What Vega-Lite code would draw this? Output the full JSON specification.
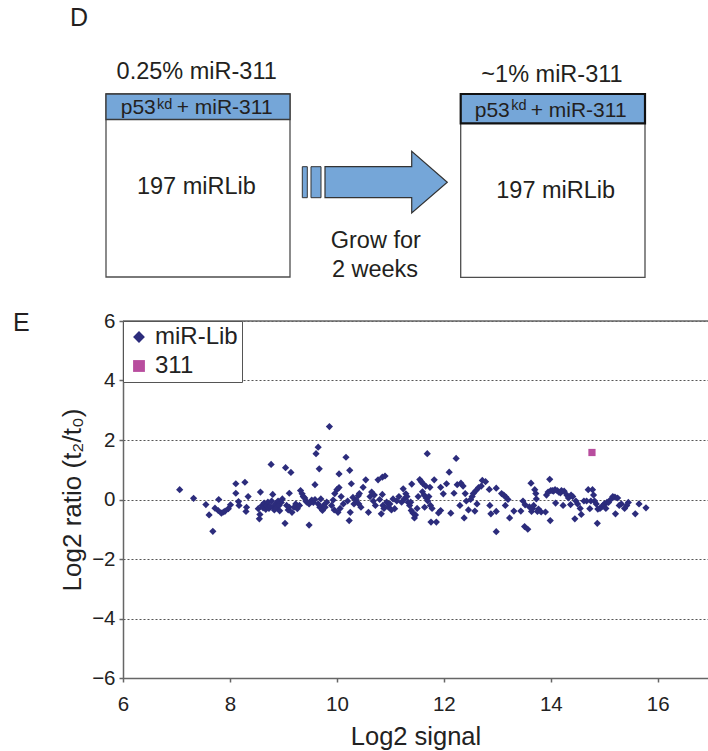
{
  "$schema": "https://vega.github.io/schema/vega-lite/v6.json",
  "padding": {"left": 13, "top": 0, "right": 0, "bottom": 0},
  "bounds": "flush",
  "spacing": 21,
  "background": "white",
  "config": {"font": "Liberation Sans", "view": {"stroke": null}},
  "resolve": {"scale": {"color": "independent", "shape": "independent"}, "legend": {"color": "independent", "shape": "independent"}},
  "datasets": {
    "boxes": [{"gx": 106, "gx2": 290, "gy": 94, "gy2": 277}, {"gx": 460.7, "gx2": 645, "gy": 94, "gy2": 277.3}],
    "bandL": [{"gx": 106, "gx2": 290, "gy": 94, "gy2": 119.5}],
    "bandR": [{"gx": 460.7, "gx2": 645, "gy": 94, "gy2": 123.3}],
    "tail": [{"gx": 302.3, "gx2": 307.3, "gy": 166.7, "gy2": 197.7}, {"gx": 311, "gx2": 321, "gy": 166.7, "gy2": 197.7}],
    "arrow": [{"gx": 386.15, "gy": 182.2}],
    "bigText": [
      {"gx": 196.7, "gy": 79, "t": "0.25% miR-311"},
      {"gx": 552, "gy": 81.7, "t": "~1% miR-311"},
      {"gx": 196.4, "gy": 194, "t": "197 miRLib"},
      {"gx": 555.7, "gy": 198.3, "t": "197 miRLib"},
      {"gx": 375.8, "gy": 247.7, "t": "Grow for"},
      {"gx": 375, "gy": 276.7, "t": "2 weeks"}
    ],
    "bandText": [
      {"gx": 120.7, "gy": 114, "t": "p53"},
      {"gx": 176.7, "gy": 114, "t": "+ miR-311"},
      {"gx": 474.7, "gy": 116.7, "t": "p53"},
      {"gx": 530.7, "gy": 116.7, "t": "+ miR-311"}
    ],
    "supText": [{"gx": 157, "gy": 108.8, "t": "kd"}, {"gx": 511.3, "gy": 109.5, "t": "kd"}],
    "labelD": [{"gx": 70, "gy": 26, "t": "D"}],
    "labelE": [{"signal": 3.944, "ratio": 5.664, "t": "E"}],
    "frameTop": [{"ratio": 6}],
    "points": [
      {"signal": 7.06, "ratio": 0.33, "series": "miR-Lib"},
      {"signal": 7.32, "ratio": 0.04, "series": "miR-Lib"},
      {"signal": 7.55, "ratio": -0.17, "series": "miR-Lib"},
      {"signal": 7.61, "ratio": -0.52, "series": "miR-Lib"},
      {"signal": 7.68, "ratio": -1.07, "series": "miR-Lib"},
      {"signal": 7.72, "ratio": -0.29, "series": "miR-Lib"},
      {"signal": 7.78, "ratio": -0.37, "series": "miR-Lib"},
      {"signal": 7.79, "ratio": 0.0, "series": "miR-Lib"},
      {"signal": 7.84, "ratio": -0.46, "series": "miR-Lib"},
      {"signal": 7.88, "ratio": -0.42, "series": "miR-Lib"},
      {"signal": 7.91, "ratio": -0.39, "series": "miR-Lib"},
      {"signal": 7.97, "ratio": -0.31, "series": "miR-Lib"},
      {"signal": 8.01, "ratio": -0.18, "series": "miR-Lib"},
      {"signal": 8.11, "ratio": 0.53, "series": "miR-Lib"},
      {"signal": 8.11, "ratio": 0.21, "series": "miR-Lib"},
      {"signal": 8.16, "ratio": -0.07, "series": "miR-Lib"},
      {"signal": 8.17, "ratio": -0.2, "series": "miR-Lib"},
      {"signal": 8.28, "ratio": 0.58, "series": "miR-Lib"},
      {"signal": 8.3, "ratio": -0.4, "series": "miR-Lib"},
      {"signal": 8.31, "ratio": -0.26, "series": "miR-Lib"},
      {"signal": 8.34, "ratio": 0.1, "series": "miR-Lib"},
      {"signal": 8.53, "ratio": -0.31, "series": "miR-Lib"},
      {"signal": 8.55, "ratio": -0.65, "series": "miR-Lib"},
      {"signal": 8.56, "ratio": -0.5, "series": "miR-Lib"},
      {"signal": 8.57, "ratio": 0.25, "series": "miR-Lib"},
      {"signal": 8.6, "ratio": -0.2, "series": "miR-Lib"},
      {"signal": 8.62, "ratio": -0.28, "series": "miR-Lib"},
      {"signal": 8.64, "ratio": -0.12, "series": "miR-Lib"},
      {"signal": 8.67, "ratio": -0.33, "series": "miR-Lib"},
      {"signal": 8.69, "ratio": -0.2, "series": "miR-Lib"},
      {"signal": 8.71, "ratio": -0.09, "series": "miR-Lib"},
      {"signal": 8.73, "ratio": -0.3, "series": "miR-Lib"},
      {"signal": 8.75, "ratio": -0.22, "series": "miR-Lib"},
      {"signal": 8.77, "ratio": 1.18, "series": "miR-Lib"},
      {"signal": 8.78, "ratio": -0.05, "series": "miR-Lib"},
      {"signal": 8.8, "ratio": 0.17, "series": "miR-Lib"},
      {"signal": 8.81, "ratio": -0.25, "series": "miR-Lib"},
      {"signal": 8.83, "ratio": -0.35, "series": "miR-Lib"},
      {"signal": 8.85, "ratio": -0.15, "series": "miR-Lib"},
      {"signal": 8.87, "ratio": -0.28, "series": "miR-Lib"},
      {"signal": 8.9, "ratio": -0.05, "series": "miR-Lib"},
      {"signal": 8.92, "ratio": -0.2, "series": "miR-Lib"},
      {"signal": 8.93, "ratio": -0.38, "series": "miR-Lib"},
      {"signal": 8.96, "ratio": -0.1, "series": "miR-Lib"},
      {"signal": 8.98, "ratio": 0.02, "series": "miR-Lib"},
      {"signal": 9.03, "ratio": -0.8, "series": "miR-Lib"},
      {"signal": 9.04, "ratio": 1.07, "series": "miR-Lib"},
      {"signal": 9.06, "ratio": -0.2, "series": "miR-Lib"},
      {"signal": 9.09, "ratio": -0.35, "series": "miR-Lib"},
      {"signal": 9.11, "ratio": 0.21, "series": "miR-Lib"},
      {"signal": 9.11, "ratio": -0.26, "series": "miR-Lib"},
      {"signal": 9.14, "ratio": 0.91, "series": "miR-Lib"},
      {"signal": 9.16, "ratio": -0.43, "series": "miR-Lib"},
      {"signal": 9.2, "ratio": -0.26, "series": "miR-Lib"},
      {"signal": 9.23, "ratio": -0.15, "series": "miR-Lib"},
      {"signal": 9.26, "ratio": -0.31, "series": "miR-Lib"},
      {"signal": 9.3, "ratio": -0.2, "series": "miR-Lib"},
      {"signal": 9.32, "ratio": 0.3, "series": "miR-Lib"},
      {"signal": 9.35, "ratio": 0.19, "series": "miR-Lib"},
      {"signal": 9.37, "ratio": 0.1, "series": "miR-Lib"},
      {"signal": 9.4, "ratio": 0.05, "series": "miR-Lib"},
      {"signal": 9.42, "ratio": -0.05, "series": "miR-Lib"},
      {"signal": 9.44, "ratio": -0.09, "series": "miR-Lib"},
      {"signal": 9.48, "ratio": -0.15, "series": "miR-Lib"},
      {"signal": 9.48, "ratio": -0.86, "series": "miR-Lib"},
      {"signal": 9.53, "ratio": -0.02, "series": "miR-Lib"},
      {"signal": 9.56, "ratio": -0.1, "series": "miR-Lib"},
      {"signal": 9.59, "ratio": 0.5, "series": "miR-Lib"},
      {"signal": 9.59, "ratio": 0.0, "series": "miR-Lib"},
      {"signal": 9.61, "ratio": 1.54, "series": "miR-Lib"},
      {"signal": 9.65, "ratio": 1.76, "series": "miR-Lib"},
      {"signal": 9.65, "ratio": -0.15, "series": "miR-Lib"},
      {"signal": 9.67, "ratio": 1.03, "series": "miR-Lib"},
      {"signal": 9.68, "ratio": -0.26, "series": "miR-Lib"},
      {"signal": 9.7, "ratio": 0.02, "series": "miR-Lib"},
      {"signal": 9.73, "ratio": -0.37, "series": "miR-Lib"},
      {"signal": 9.75, "ratio": -0.2, "series": "miR-Lib"},
      {"signal": 9.78, "ratio": -0.26, "series": "miR-Lib"},
      {"signal": 9.81, "ratio": -0.09, "series": "miR-Lib"},
      {"signal": 9.86, "ratio": 2.45, "series": "miR-Lib"},
      {"signal": 9.9, "ratio": -0.2, "series": "miR-Lib"},
      {"signal": 9.93, "ratio": -0.02, "series": "miR-Lib"},
      {"signal": 9.96, "ratio": 0.2, "series": "miR-Lib"},
      {"signal": 9.95, "ratio": -0.35, "series": "miR-Lib"},
      {"signal": 10.0, "ratio": 0.33, "series": "miR-Lib"},
      {"signal": 10.02, "ratio": -0.43, "series": "miR-Lib"},
      {"signal": 10.04, "ratio": 0.4, "series": "miR-Lib"},
      {"signal": 10.04, "ratio": 0.86, "series": "miR-Lib"},
      {"signal": 10.06, "ratio": -0.3, "series": "miR-Lib"},
      {"signal": 10.08, "ratio": 0.1, "series": "miR-Lib"},
      {"signal": 10.12, "ratio": -0.15, "series": "miR-Lib"},
      {"signal": 10.17, "ratio": 1.42, "series": "miR-Lib"},
      {"signal": 10.2, "ratio": -0.05, "series": "miR-Lib"},
      {"signal": 10.24, "ratio": 0.98, "series": "miR-Lib"},
      {"signal": 10.23, "ratio": -0.71, "series": "miR-Lib"},
      {"signal": 10.25, "ratio": -0.43, "series": "miR-Lib"},
      {"signal": 10.27, "ratio": 0.53, "series": "miR-Lib"},
      {"signal": 10.3, "ratio": 0.07, "series": "miR-Lib"},
      {"signal": 10.32, "ratio": -0.15, "series": "miR-Lib"},
      {"signal": 10.36, "ratio": -0.02, "series": "miR-Lib"},
      {"signal": 10.4, "ratio": 0.13, "series": "miR-Lib"},
      {"signal": 10.41, "ratio": -0.15, "series": "miR-Lib"},
      {"signal": 10.42, "ratio": 0.2, "series": "miR-Lib"},
      {"signal": 10.45, "ratio": -0.26, "series": "miR-Lib"},
      {"signal": 10.49, "ratio": 0.41, "series": "miR-Lib"},
      {"signal": 10.54, "ratio": 0.66, "series": "miR-Lib"},
      {"signal": 10.59, "ratio": -0.43, "series": "miR-Lib"},
      {"signal": 10.62, "ratio": 0.1, "series": "miR-Lib"},
      {"signal": 10.65, "ratio": 0.25, "series": "miR-Lib"},
      {"signal": 10.68, "ratio": -0.05, "series": "miR-Lib"},
      {"signal": 10.7, "ratio": 0.15, "series": "miR-Lib"},
      {"signal": 10.72, "ratio": -0.2, "series": "miR-Lib"},
      {"signal": 10.77, "ratio": 0.66, "series": "miR-Lib"},
      {"signal": 10.8, "ratio": 0.0, "series": "miR-Lib"},
      {"signal": 10.85, "ratio": 0.75, "series": "miR-Lib"},
      {"signal": 10.9, "ratio": 0.79, "series": "miR-Lib"},
      {"signal": 10.85, "ratio": 0.17, "series": "miR-Lib"},
      {"signal": 10.86, "ratio": -0.2, "series": "miR-Lib"},
      {"signal": 10.83, "ratio": -0.48, "series": "miR-Lib"},
      {"signal": 10.88, "ratio": -0.3, "series": "miR-Lib"},
      {"signal": 10.93, "ratio": -0.09, "series": "miR-Lib"},
      {"signal": 10.96, "ratio": -0.25, "series": "miR-Lib"},
      {"signal": 10.99, "ratio": -0.15, "series": "miR-Lib"},
      {"signal": 11.02, "ratio": -0.35, "series": "miR-Lib"},
      {"signal": 11.05, "ratio": 0.02, "series": "miR-Lib"},
      {"signal": 11.08, "ratio": -0.31, "series": "miR-Lib"},
      {"signal": 11.12, "ratio": -0.05, "series": "miR-Lib"},
      {"signal": 11.16, "ratio": 0.1, "series": "miR-Lib"},
      {"signal": 11.21, "ratio": -0.09, "series": "miR-Lib"},
      {"signal": 11.24, "ratio": 0.36, "series": "miR-Lib"},
      {"signal": 11.26, "ratio": 0.02, "series": "miR-Lib"},
      {"signal": 11.29, "ratio": 0.19, "series": "miR-Lib"},
      {"signal": 11.31, "ratio": 0.1, "series": "miR-Lib"},
      {"signal": 11.33, "ratio": -0.09, "series": "miR-Lib"},
      {"signal": 11.36, "ratio": -0.2, "series": "miR-Lib"},
      {"signal": 11.38, "ratio": -0.09, "series": "miR-Lib"},
      {"signal": 11.4, "ratio": 0.52, "series": "miR-Lib"},
      {"signal": 11.39, "ratio": -0.37, "series": "miR-Lib"},
      {"signal": 11.42, "ratio": -0.45, "series": "miR-Lib"},
      {"signal": 11.45, "ratio": -0.62, "series": "miR-Lib"},
      {"signal": 11.47, "ratio": -0.52, "series": "miR-Lib"},
      {"signal": 11.5, "ratio": -0.3, "series": "miR-Lib"},
      {"signal": 11.52, "ratio": 0.1, "series": "miR-Lib"},
      {"signal": 11.55, "ratio": 0.67, "series": "miR-Lib"},
      {"signal": 11.58, "ratio": 0.6, "series": "miR-Lib"},
      {"signal": 11.6, "ratio": 0.26, "series": "miR-Lib"},
      {"signal": 11.61, "ratio": 0.53, "series": "miR-Lib"},
      {"signal": 11.63, "ratio": 0.15, "series": "miR-Lib"},
      {"signal": 11.64, "ratio": -0.26, "series": "miR-Lib"},
      {"signal": 11.66, "ratio": 0.45, "series": "miR-Lib"},
      {"signal": 11.69, "ratio": 1.54, "series": "miR-Lib"},
      {"signal": 11.67, "ratio": 0.05, "series": "miR-Lib"},
      {"signal": 11.7, "ratio": -0.05, "series": "miR-Lib"},
      {"signal": 11.72, "ratio": 0.1, "series": "miR-Lib"},
      {"signal": 11.74, "ratio": 0.41, "series": "miR-Lib"},
      {"signal": 11.75, "ratio": -0.2, "series": "miR-Lib"},
      {"signal": 11.76, "ratio": -0.76, "series": "miR-Lib"},
      {"signal": 11.78, "ratio": -0.3, "series": "miR-Lib"},
      {"signal": 11.82, "ratio": 0.66, "series": "miR-Lib"},
      {"signal": 11.86, "ratio": -0.76, "series": "miR-Lib"},
      {"signal": 11.9, "ratio": -0.45, "series": "miR-Lib"},
      {"signal": 11.94, "ratio": 0.41, "series": "miR-Lib"},
      {"signal": 11.94, "ratio": -0.37, "series": "miR-Lib"},
      {"signal": 11.99, "ratio": 0.19, "series": "miR-Lib"},
      {"signal": 12.05, "ratio": 0.53, "series": "miR-Lib"},
      {"signal": 12.1, "ratio": 0.92, "series": "miR-Lib"},
      {"signal": 12.13, "ratio": -0.46, "series": "miR-Lib"},
      {"signal": 12.19, "ratio": 0.21, "series": "miR-Lib"},
      {"signal": 12.23, "ratio": 1.38, "series": "miR-Lib"},
      {"signal": 12.25, "ratio": 0.5, "series": "miR-Lib"},
      {"signal": 12.3, "ratio": -0.2, "series": "miR-Lib"},
      {"signal": 12.32, "ratio": 0.55, "series": "miR-Lib"},
      {"signal": 12.36, "ratio": 0.45, "series": "miR-Lib"},
      {"signal": 12.38, "ratio": -0.62, "series": "miR-Lib"},
      {"signal": 12.4, "ratio": 0.2, "series": "miR-Lib"},
      {"signal": 12.42, "ratio": -0.05, "series": "miR-Lib"},
      {"signal": 12.46, "ratio": -0.35, "series": "miR-Lib"},
      {"signal": 12.5, "ratio": 0.0, "series": "miR-Lib"},
      {"signal": 12.53, "ratio": 0.1, "series": "miR-Lib"},
      {"signal": 12.55, "ratio": 0.2, "series": "miR-Lib"},
      {"signal": 12.58, "ratio": -0.39, "series": "miR-Lib"},
      {"signal": 12.6, "ratio": 0.3, "series": "miR-Lib"},
      {"signal": 12.62, "ratio": -0.15, "series": "miR-Lib"},
      {"signal": 12.65, "ratio": 0.4, "series": "miR-Lib"},
      {"signal": 12.7, "ratio": 0.45, "series": "miR-Lib"},
      {"signal": 12.72, "ratio": 0.64, "series": "miR-Lib"},
      {"signal": 12.78, "ratio": 0.6, "series": "miR-Lib"},
      {"signal": 12.85, "ratio": 0.34, "series": "miR-Lib"},
      {"signal": 12.86, "ratio": -0.2, "series": "miR-Lib"},
      {"signal": 12.88, "ratio": -0.48, "series": "miR-Lib"},
      {"signal": 12.98, "ratio": 0.38, "series": "miR-Lib"},
      {"signal": 12.98, "ratio": -0.4, "series": "miR-Lib"},
      {"signal": 12.98, "ratio": -1.08, "series": "miR-Lib"},
      {"signal": 13.08, "ratio": 0.2, "series": "miR-Lib"},
      {"signal": 13.12, "ratio": 0.15, "series": "miR-Lib"},
      {"signal": 13.15, "ratio": -0.2, "series": "miR-Lib"},
      {"signal": 13.16, "ratio": 0.08, "series": "miR-Lib"},
      {"signal": 13.2, "ratio": 0.0, "series": "miR-Lib"},
      {"signal": 13.23, "ratio": -0.62, "series": "miR-Lib"},
      {"signal": 13.31, "ratio": -0.39, "series": "miR-Lib"},
      {"signal": 13.44, "ratio": -0.39, "series": "miR-Lib"},
      {"signal": 13.48, "ratio": -0.05, "series": "miR-Lib"},
      {"signal": 13.52, "ratio": -0.18, "series": "miR-Lib"},
      {"signal": 13.51, "ratio": -0.91, "series": "miR-Lib"},
      {"signal": 13.57, "ratio": -1.0, "series": "miR-Lib"},
      {"signal": 13.63, "ratio": 0.55, "series": "miR-Lib"},
      {"signal": 13.6, "ratio": -0.25, "series": "miR-Lib"},
      {"signal": 13.64, "ratio": -0.4, "series": "miR-Lib"},
      {"signal": 13.66, "ratio": -0.3, "series": "miR-Lib"},
      {"signal": 13.68, "ratio": -0.2, "series": "miR-Lib"},
      {"signal": 13.7, "ratio": 0.33, "series": "miR-Lib"},
      {"signal": 13.72, "ratio": 0.2, "series": "miR-Lib"},
      {"signal": 13.73, "ratio": 0.02, "series": "miR-Lib"},
      {"signal": 13.75, "ratio": -0.4, "series": "miR-Lib"},
      {"signal": 13.77, "ratio": -0.32, "series": "miR-Lib"},
      {"signal": 13.82, "ratio": -0.42, "series": "miR-Lib"},
      {"signal": 13.9, "ratio": -0.42, "series": "miR-Lib"},
      {"signal": 13.92, "ratio": 0.15, "series": "miR-Lib"},
      {"signal": 13.95, "ratio": 0.25, "series": "miR-Lib"},
      {"signal": 13.98, "ratio": 0.68, "series": "miR-Lib"},
      {"signal": 13.99, "ratio": -0.71, "series": "miR-Lib"},
      {"signal": 14.0, "ratio": 0.3, "series": "miR-Lib"},
      {"signal": 14.03, "ratio": 0.3, "series": "miR-Lib"},
      {"signal": 14.05, "ratio": 0.28, "series": "miR-Lib"},
      {"signal": 14.08, "ratio": 0.33, "series": "miR-Lib"},
      {"signal": 14.09, "ratio": -0.12, "series": "miR-Lib"},
      {"signal": 14.12, "ratio": 0.3, "series": "miR-Lib"},
      {"signal": 14.15, "ratio": 0.25, "series": "miR-Lib"},
      {"signal": 14.18, "ratio": 0.22, "series": "miR-Lib"},
      {"signal": 14.2, "ratio": 0.3, "series": "miR-Lib"},
      {"signal": 14.23, "ratio": -0.2, "series": "miR-Lib"},
      {"signal": 14.25, "ratio": 0.28, "series": "miR-Lib"},
      {"signal": 14.3, "ratio": 0.15, "series": "miR-Lib"},
      {"signal": 14.33, "ratio": 0.05, "series": "miR-Lib"},
      {"signal": 14.37, "ratio": -0.17, "series": "miR-Lib"},
      {"signal": 14.38, "ratio": 0.15, "series": "miR-Lib"},
      {"signal": 14.41, "ratio": 0.1, "series": "miR-Lib"},
      {"signal": 14.45, "ratio": -0.65, "series": "miR-Lib"},
      {"signal": 14.47, "ratio": -0.05, "series": "miR-Lib"},
      {"signal": 14.5, "ratio": -0.15, "series": "miR-Lib"},
      {"signal": 14.57, "ratio": -0.5, "series": "miR-Lib"},
      {"signal": 14.55, "ratio": -0.3, "series": "miR-Lib"},
      {"signal": 14.62, "ratio": -0.05, "series": "miR-Lib"},
      {"signal": 14.67, "ratio": -0.05, "series": "miR-Lib"},
      {"signal": 14.7, "ratio": 0.33, "series": "miR-Lib"},
      {"signal": 14.73, "ratio": -0.31, "series": "miR-Lib"},
      {"signal": 14.75, "ratio": -0.05, "series": "miR-Lib"},
      {"signal": 14.78, "ratio": 0.33, "series": "miR-Lib"},
      {"signal": 14.8, "ratio": 0.15, "series": "miR-Lib"},
      {"signal": 14.82, "ratio": -0.05, "series": "miR-Lib"},
      {"signal": 14.85, "ratio": -0.15, "series": "miR-Lib"},
      {"signal": 14.87, "ratio": -0.8, "series": "miR-Lib"},
      {"signal": 14.88, "ratio": -0.32, "series": "miR-Lib"},
      {"signal": 14.92, "ratio": -0.3, "series": "miR-Lib"},
      {"signal": 14.95, "ratio": -0.25, "series": "miR-Lib"},
      {"signal": 14.98, "ratio": -0.2, "series": "miR-Lib"},
      {"signal": 15.0, "ratio": -0.15, "series": "miR-Lib"},
      {"signal": 15.03, "ratio": -0.3, "series": "miR-Lib"},
      {"signal": 15.05, "ratio": -0.1, "series": "miR-Lib"},
      {"signal": 15.08, "ratio": -0.1, "series": "miR-Lib"},
      {"signal": 15.12, "ratio": 0.0, "series": "miR-Lib"},
      {"signal": 15.16, "ratio": 0.1, "series": "miR-Lib"},
      {"signal": 15.2, "ratio": 0.08, "series": "miR-Lib"},
      {"signal": 15.21, "ratio": -0.48, "series": "miR-Lib"},
      {"signal": 15.25, "ratio": 0.05, "series": "miR-Lib"},
      {"signal": 15.28, "ratio": -0.2, "series": "miR-Lib"},
      {"signal": 15.32, "ratio": -0.15, "series": "miR-Lib"},
      {"signal": 15.38, "ratio": -0.3, "series": "miR-Lib"},
      {"signal": 15.42, "ratio": -0.2, "series": "miR-Lib"},
      {"signal": 15.45, "ratio": -0.1, "series": "miR-Lib"},
      {"signal": 15.58, "ratio": -0.48, "series": "miR-Lib"},
      {"signal": 15.65, "ratio": -0.15, "series": "miR-Lib"},
      {"signal": 15.78, "ratio": -0.28, "series": "miR-Lib"},
      {"signal": 14.77, "ratio": 1.58, "series": "311"}
    ]
  },
  "vconcat": [
    {
      "width": 585,
      "height": 300,
      "encoding": {
        "x": {"field": "gx", "type": "quantitative", "scale": {"domain": [123, 708], "nice": false, "zero": false}, "axis": null},
        "y": {"field": "gy", "type": "quantitative", "scale": {"domain": [0, 300], "reverse": true, "nice": false, "zero": false}, "axis": null}
      },
      "layer": [
        {"data": {"name": "boxes"}, "mark": {"type": "rect", "fill": "white", "stroke": "#4d4d4d", "strokeWidth": 1.3}, "encoding": {"x2": {"field": "gx2"}, "y2": {"field": "gy2"}}},
        {"data": {"name": "bandL"}, "mark": {"type": "rect", "fill": "#75A6D8", "stroke": "#3a3a3a", "strokeWidth": 1.3}, "encoding": {"x2": {"field": "gx2"}, "y2": {"field": "gy2"}}},
        {"data": {"name": "bandR"}, "mark": {"type": "rect", "fill": "#75A6D8", "stroke": "#111111", "strokeWidth": 2.2}, "encoding": {"x2": {"field": "gx2"}, "y2": {"field": "gy2"}}},
        {"data": {"name": "tail"}, "mark": {"type": "rect", "fill": "#75A6D8", "stroke": "#333333", "strokeWidth": 1}, "encoding": {"x2": {"field": "gx2"}, "y2": {"field": "gy2"}}},
        {"data": {"name": "arrow"}, "mark": {"type": "point", "shape": "M-1,-0.2535L0.418,-0.2535L0.418,-0.504L1,0L0.418,0.504L0.418,0.2535L-1,0.2535Z", "size": 14957, "filled": true, "fill": "#75A6D8", "stroke": "#333333", "strokeWidth": 1.2, "opacity": 1}},
        {"data": {"name": "bigText"}, "mark": {"type": "text", "fontSize": 23.5, "align": "center", "baseline": "alphabetic", "color": "#231f20"}, "encoding": {"text": {"field": "t"}}},
        {"data": {"name": "bandText"}, "mark": {"type": "text", "fontSize": 21, "align": "left", "baseline": "alphabetic", "color": "#231f20"}, "encoding": {"text": {"field": "t"}}},
        {"data": {"name": "supText"}, "mark": {"type": "text", "fontSize": 14.5, "align": "left", "baseline": "alphabetic", "color": "#231f20"}, "encoding": {"text": {"field": "t"}}},
        {"data": {"name": "labelD"}, "mark": {"type": "text", "fontSize": 25, "align": "left", "baseline": "alphabetic", "color": "#231f20"}, "encoding": {"text": {"field": "t"}}}
      ]
    },
    {
      "width": 585,
      "height": 357,
      "layer": [
        {
          "data": {"name": "points"},
          "mark": {"type": "point", "filled": true, "size": 52, "opacity": 1, "strokeWidth": 0},
          "encoding": {
            "x": {"field": "signal", "type": "quantitative", "title": "Log2 signal",
              "scale": {"domain": [6, 16.94], "nice": false, "zero": false},
              "axis": {"values": [6, 8, 10, 12, 14, 16], "grid": false, "tickSize": 4, "labelPadding": 12, "labelFontSize": 20.5, "titleFontSize": 25.5, "titleFontWeight": "normal", "titlePadding": 10, "domainColor": "#666666", "domainWidth": 1.5, "tickColor": "#666666", "tickWidth": 1.5, "labelColor": "#222222", "titleColor": "#222222", "labelFlush": false, "labelOverlap": false}},
            "y": {"field": "ratio", "type": "quantitative", "title": "Log2 ratio (t₂/t₀)",
              "scale": {"domain": [-6, 6], "nice": false, "zero": false},
              "axis": {"values": [-6, -4, -2, 0, 2, 4, 6], "grid": true, "gridDash": [2, 2], "gridColor": "#555555", "gridWidth": 1, "tickSize": 4, "labelPadding": 4, "labelFontSize": 20.5, "titleFontSize": 26, "titleFontWeight": "normal", "titlePadding": 6, "domainColor": "#666666", "domainWidth": 1.5, "tickColor": "#666666", "tickWidth": 1.5, "labelColor": "#222222", "titleColor": "#222222", "labelOverlap": false}},
            "color": {"field": "series", "type": "nominal",
              "scale": {"domain": ["miR-Lib", "311"], "range": ["#2C2C7C", "#B84D9E"]},
              "legend": {"title": null, "orient": "top-left", "offset": 0, "padding": 4, "fillColor": "white", "strokeColor": "#555555", "labelFontSize": 24, "labelColor": "#222222", "symbolSize": 140, "labelOffset": 4, "rowPadding": 5, "symbolStrokeWidth": 0, "labelExpr": "datum.label + '\u00a0\u00a0'"}},
            "shape": {"field": "series", "type": "nominal",
              "scale": {"domain": ["miR-Lib", "311"], "range": ["diamond", "square"]},
              "legend": {"title": null, "orient": "top-left", "offset": 0, "padding": 4, "fillColor": "white", "strokeColor": "#555555", "labelFontSize": 24, "labelColor": "#222222", "symbolSize": 140, "labelOffset": 4, "rowPadding": 5, "symbolStrokeWidth": 0, "labelExpr": "datum.label + '\u00a0\u00a0'"}}
          }
        },
        {
          "data": {"name": "frameTop"},
          "mark": {"type": "rule", "color": "#666666", "strokeWidth": 1.5},
          "encoding": {"y": {"field": "ratio", "type": "quantitative", "title": "Log2 ratio (t₂/t₀)"}}
        },
        {
          "data": {"name": "labelE"},
          "mark": {"type": "text", "fontSize": 25, "align": "left", "baseline": "alphabetic", "color": "#231f20"},
          "encoding": {
            "x": {"field": "signal", "type": "quantitative", "title": "Log2 signal"},
            "y": {"field": "ratio", "type": "quantitative", "title": "Log2 ratio (t₂/t₀)"},
            "text": {"field": "t"}
          }
        }
      ]
    }
  ]
}
